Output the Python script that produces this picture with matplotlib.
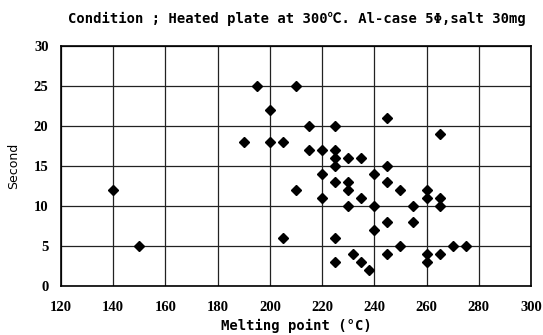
import matplotlib
matplotlib.use("Agg")
from matplotlib import pyplot as plt

# melting point (deg C) vs time (s)
melting_point = [140, 150, 190, 195, 200, 200, 205, 205, 210, 210,
                 215, 215, 220, 220, 220, 225, 225, 225, 225, 225,
                 225, 225, 230, 230, 230, 230, 232, 235, 235, 235,
                 238, 240, 240, 240, 245, 245, 245, 245, 245, 250,
                 250, 255, 255, 260, 260, 260, 260, 265, 265, 265,
                 265, 270, 275]
seconds = [12, 5, 18, 25, 22, 18, 18, 6, 25, 12,
           20, 17, 17, 14, 11, 20, 17, 16, 15, 13,
           6, 3, 16, 13, 12, 10, 4, 16, 11, 3,
           2, 14, 10, 7, 21, 15, 13, 8, 4, 12,
           5, 10, 8, 12, 11, 4, 3, 19, 11, 10,
           4, 5, 5]

x_ticks = [120, 140, 160, 180, 200, 220, 240, 260, 280, 300]
y_ticks = [0, 5, 10, 15, 20, 25, 30]

fig = plt.figure(figsize=(5.43, 3.35), dpi=100)
ax = fig.add_axes([0.1123, 0.1463, 0.8656, 0.7164])

ax.plot(melting_point, seconds, 'D', color='black', markersize=5.3, zorder=3)

ax.set_xlim(120, 300)
ax.set_ylim(0, 30)
ax.set_xticks(x_ticks)
ax.set_yticks(y_ticks)
ax.grid(True, color='#222222', linewidth=0.9)
ax.set_axisbelow(True)
for s in ax.spines.values():
    s.set_linewidth(1.2)
ax.tick_params(length=0)
for lab in ax.get_xticklabels() + ax.get_yticklabels():
    lab.set_family('Liberation Serif')
    lab.set_fontsize(10.5)
    lab.set_fontweight('bold')
ax.tick_params(axis='x', pad=11)
ax.tick_params(axis='y', pad=9)

ax.set_xlabel('Melting point (°C)', family='DejaVu Sans Mono', fontsize=10,
              fontweight='bold', labelpad=3)
ax.set_ylabel('Second', family='DejaVu Sans', fontsize=9, labelpad=10)

fig.text(0.546, 0.945, 'Condition ; Heated plate at 300℃. Al-case 5Φ,salt 30mg',
         family=['DejaVu Sans Mono', 'Noto Sans CJK JP'], fontsize=10,
         fontweight='bold', ha='center', va='center')

fig.savefig('out.png', dpi=100)
